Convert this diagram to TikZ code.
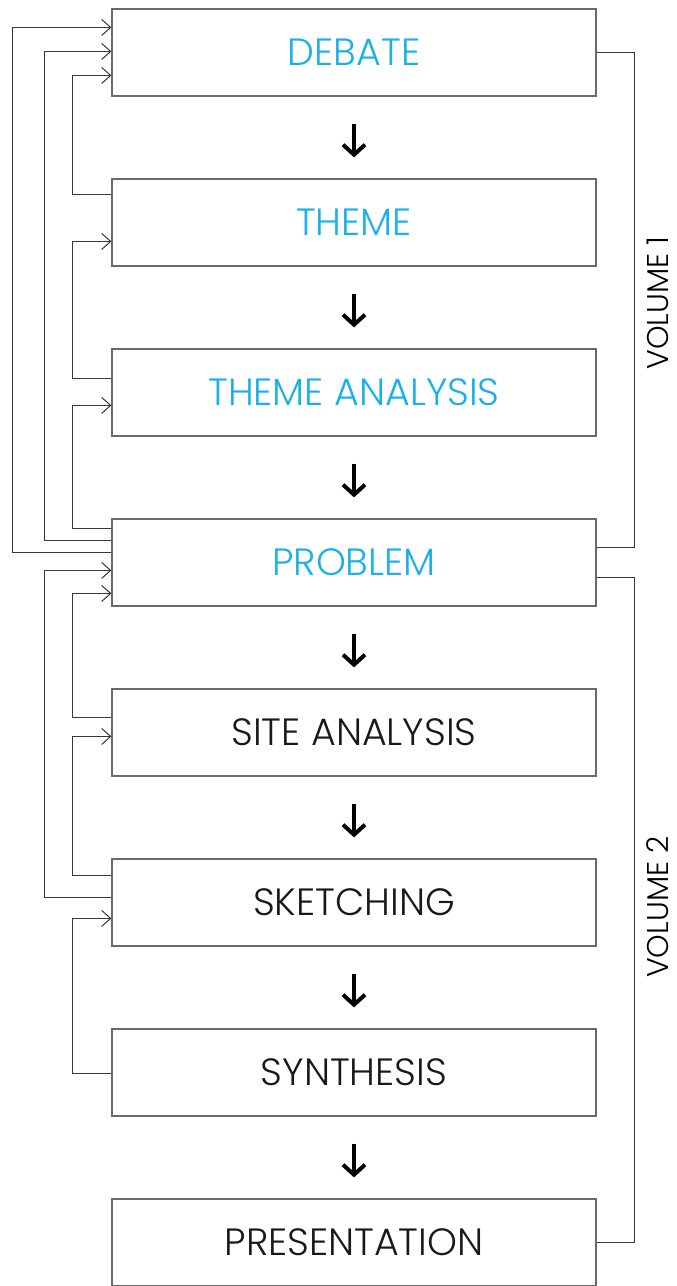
\documentclass[tikz,border=0pt]{standalone}
\usepackage{fontspec}
\setmainfont{Poppins Light}
\usetikzlibrary{arrows.meta,calc}
\definecolor{stageblue}{RGB}{27,177,231}
\definecolor{edgegray}{RGB}{105,105,105}
\definecolor{linkgray}{RGB}{55,55,55}
\tikzset{
  stagebox/.style={draw=edgegray, line width=1.2pt, minimum width=484pt,
    minimum height=87pt, inner sep=0pt, font=\fontsize{38}{44}\selectfont},
  early/.style={stagebox, text=stageblue},
  late/.style={stagebox, text=black!90},
  feedback/.style={draw=linkgray, line width=1pt,
    -{Straight Barb[length=9pt,width=16pt,line width=1pt]}},
  bracket/.style={draw=linkgray, line width=1pt},
  nextstep/.style={draw=black, line width=4pt,
    -{Straight Barb[length=10pt,width=22pt,line width=4pt]}},
  volume/.style={rotate=90, inner sep=0pt, font=\fontsize{30}{34}\selectfont, text=black}
}
\begin{document}
\begin{tikzpicture}[x=1pt,y=-1pt]
\useasboundingbox (0,0) rectangle (677,1286);
% stages, top to bottom
\node[early] (b1) at (354,52.5)   {DEBATE};
\node[early] (b2) at (354,222.5)  {THEME};
\node[early] (b3) at (354,392.5)  {THEME ANALYSIS};
\node[early] (b4) at (354,562.5)  {PROBLEM};
\node[late]  (b5) at (354,732.5)  {SITE ANALYSIS};
\node[late]  (b6) at (354,902.5)  {SKETCHING};
\node[late]  (b7) at (354,1072.5) {SYNTHESIS};
\node[late]  (b8) at (354,1242.5) {PRESENTATION};
% forward steps
\foreach \a/\b in {b1/b2,b2/b3,b3/b4,b4/b5,b5/b6,b6/b7,b7/b8}
  \draw[nextstep] ($(\a.south)+(0,27)$) -- ($(\b.north)+(0,-21)$);
% feedback loops on the left
\draw[feedback] ($(b4.north west)+(0,34)$) -- ++(-99,0) |- ($(b1.north west)+(0,19)$);
\draw[feedback] ($(b4.north west)+(0,22)$) -- ++(-67,0) |- ($(b1.north west)+(0,43)$);
\draw[feedback] ($(b2.north west)+(0,16)$) -- ++(-39,0) |- ($(b1.north west)+(0,67)$);
\draw[feedback] ($(b3.north west)+(0,30)$) -- ++(-39,0) |- ($(b2.north west)+(0,63)$);
\draw[feedback] ($(b4.north west)+(0,10)$) -- ++(-39,0) |- ($(b3.north west)+(0,57)$);
\draw[feedback] ($(b6.north west)+(0,39)$) -- ++(-67,0) |- ($(b4.north west)+(0,52)$);
\draw[feedback] ($(b5.north west)+(0,29)$) -- ++(-39,0) |- ($(b4.north west)+(0,75)$);
\draw[feedback] ($(b6.north west)+(0,17)$) -- ++(-39,0) |- ($(b5.north west)+(0,48)$);
\draw[feedback] ($(b7.north west)+(0,45)$) -- ++(-39,0) |- ($(b6.north west)+(0,60)$);
% volume brackets on the right
\draw[bracket] (b1.east) -- ++(38,0) |- ($(b4.east)+(0,-15)$);
\draw[bracket] ($(b4.east)+(0,15)$) -- ++(38,0) |- (b8.east);
\node[volume] (v1) at (658,303) {VOLUME 1};
\node[volume] (v2) at (658,907) {VOLUME 2};
\end{tikzpicture}
\end{document}
